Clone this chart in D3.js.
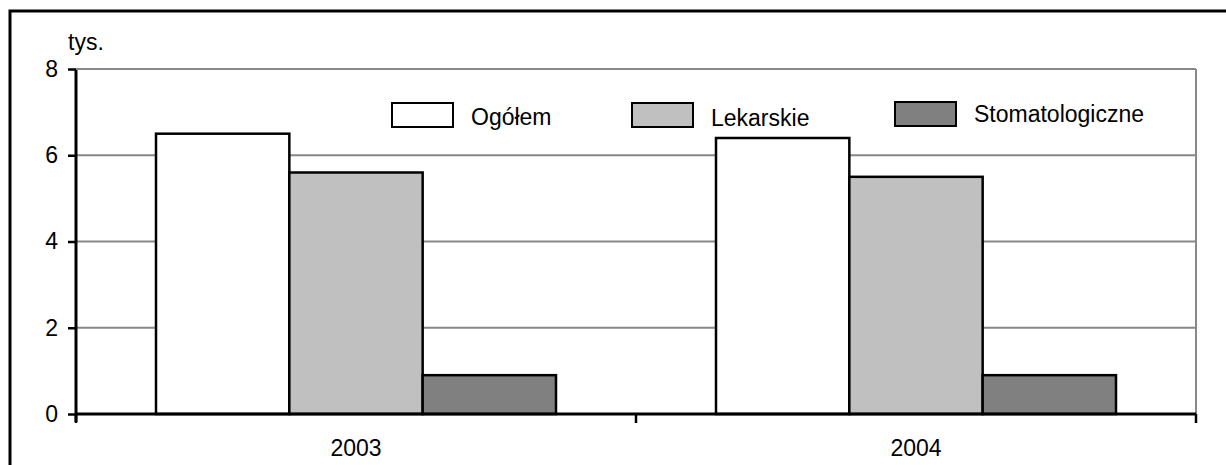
<!DOCTYPE html>
<meta charset="utf-8">
<head>
  <title>Porady</title>
</head>
<style>
body {
  margin: 0;
  background: #fff;
  font-family: Arial, "Liberation Sans", sans-serif;
}
svg text {
  font-size: 23px;
  fill: #000;
}
</style>
<body>
  <div id="content">
    <svg width="1226" height="465"></svg>
  </div>
  <script src="https://cdnjs.cloudflare.com/ajax/libs/d3/7.8.5/d3.min.js"></script>
  <script>

// data (thousands)
var years = ['2003', '2004'];
var seriesNames = ['Ogółem', 'Lekarskie', 'Stomatologiczne'];
var ogolem = [6.5, 6.4];
var lekarskie = [5.6, 5.5];
var stomatologiczne = [0.9, 0.9];
var yTicks = [0, 2, 4, 6, 8];
var unitLabel = 'tys.';

var seriesValues = [ogolem, lekarskie, stomatologiczne];
var fills = ['#ffffff', '#c0c0c0', '#808080'];

var svg = d3.select('#content svg');

// outer frame, runs off the right and bottom edges
svg.append('rect')
  .attr('x', 10).attr('y', 11)
  .attr('width', 1300).attr('height', 500)
  .attr('fill', 'none')
  .attr('stroke', '#000')
  .attr('stroke-width', 3);

var plotLeft = 76, plotRight = 1196, plotTop = 69, plotBottom = 414;

var x = d3.scaleBand()
  .domain(years)
  .range([plotLeft, plotRight])
  .padding(0);

var xs = d3.scaleBand()
  .domain(seriesNames)
  .range([0, x.bandwidth()])
  .paddingInner(0)
  .paddingOuter(0.6);

var y = d3.scaleLinear()
  .domain([0, 8])
  .range([plotBottom, plotTop]);

// gridlines
svg.append('g')
  .selectAll('line')
  .data(yTicks.filter(function(d) { return d > 0; }))
  .enter().append('line')
  .attr('x1', plotLeft).attr('x2', plotRight)
  .attr('y1', function(d) { return y(d); })
  .attr('y2', function(d) { return y(d); })
  .attr('stroke', '#888')
  .attr('stroke-width', 2);

// right border of the plot area
svg.append('line')
  .attr('x1', plotRight).attr('x2', plotRight)
  .attr('y1', plotTop).attr('y2', plotBottom)
  .attr('stroke', '#888')
  .attr('stroke-width', 2);

// bars
var rows = [];
years.forEach(function(yr, i) {
  seriesNames.forEach(function(s, j) {
    rows.push({year: yr, series: s, value: seriesValues[j][i], fill: fills[j]});
  });
});

svg.append('g')
  .selectAll('rect')
  .data(rows)
  .enter().append('rect')
  .attr('x', function(d) { return x(d.year) + xs(d.series); })
  .attr('y', function(d) { return y(d.value); })
  .attr('width', xs.bandwidth())
  .attr('height', function(d) { return y(0) - y(d.value); })
  .attr('fill', function(d) { return d.fill; })
  .attr('stroke', '#000')
  .attr('stroke-width', 2.5);

// y axis
var yAxis = svg.append('g')
  .attr('transform', 'translate(' + plotLeft + ',0)')
  .call(d3.axisLeft(y).tickValues(yTicks).tickSize(8).tickPadding(10).tickFormat(d3.format('d')));
yAxis.select('.domain').attr('stroke', '#000').attr('stroke-width', 3)
  .attr('d', 'M0,' + plotTop + 'V' + (plotBottom + 8));
yAxis.selectAll('.tick line').attr('stroke', '#000').attr('stroke-width', 2.5);
yAxis.selectAll('text').style('font-size', '23px').style('font-family', 'Arial, "Liberation Sans", sans-serif');

// x axis, ticks on band edges
var xAxis = svg.append('g')
  .attr('transform', 'translate(0,' + plotBottom + ')')
  .call(d3.axisBottom(x).tickSize(0).tickPadding(26));
xAxis.select('.domain').attr('stroke', '#000').attr('stroke-width', 3)
  .attr('d', 'M' + plotLeft + ',0H' + plotRight);
xAxis.selectAll('text').style('font-size', '23px').style('font-family', 'Arial, "Liberation Sans", sans-serif');
xAxis.selectAll('.edge')
  .data(years.map(function(d) { return x(d); }).concat([plotRight]))
  .enter().append('line')
  .attr('class', 'edge')
  .attr('x1', function(d) { return d; })
  .attr('x2', function(d) { return d; })
  .attr('y1', 0).attr('y2', 9)
  .attr('stroke', '#000')
  .attr('stroke-width', 2.5);

// top border of plot area
svg.append('line')
  .attr('x1', plotLeft).attr('x2', plotRight)
  .attr('y1', plotTop).attr('y2', plotTop)
  .attr('stroke', '#888')
  .attr('stroke-width', 2);

// unit label
svg.append('text')
  .attr('x', 68).attr('y', 50)
  .text(unitLabel);

// legend
var legendPos = [[392, 103, 125], [632, 103, 126], [895, 102, 122]];
var legend = svg.append('g')
  .selectAll('g')
  .data(seriesNames)
  .enter().append('g');
legend.append('rect')
  .attr('x', function(d, i) { return legendPos[i][0]; })
  .attr('y', function(d, i) { return legendPos[i][1]; })
  .attr('width', 61).attr('height', 24)
  .attr('fill', function(d, i) { return fills[i]; })
  .attr('stroke', '#000')
  .attr('stroke-width', 2);
legend.append('text')
  .attr('x', function(d, i) { return legendPos[i][0] + 79; })
  .attr('y', function(d, i) { return legendPos[i][2]; })
  .text(function(d) { return d; });
</script>
</body>
</html>
